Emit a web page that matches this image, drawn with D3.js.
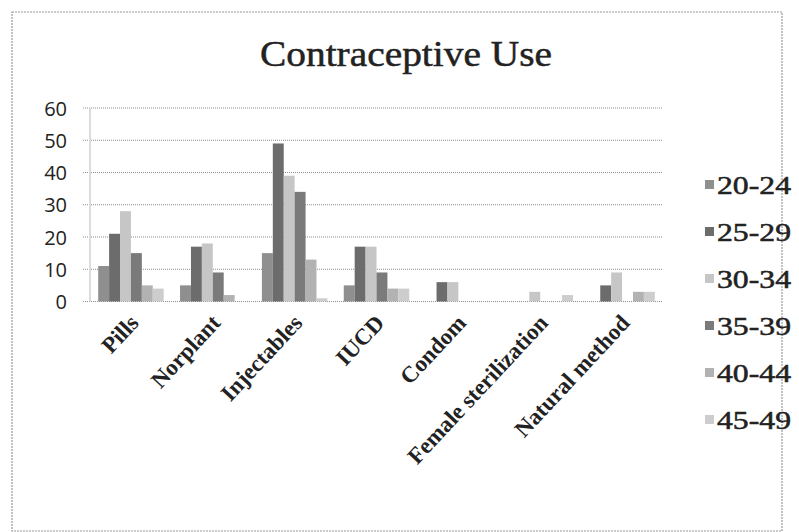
<!DOCTYPE html>
<html><head><meta charset="utf-8">
<script src="https://cdnjs.cloudflare.com/ajax/libs/d3/7.8.5/d3.min.js"></script>
<style>html,body{margin:0;padding:0;background:#fff;}</style>
</head><body>
<svg id="chart" width="799" height="532"></svg>
<script>
const categories = ["Pills","Norplant","Injectables","IUCD","Condom","Female sterilization","Natural method"];
const seriesNames = ["20-24","25-29","30-34","35-39","40-44","45-49"];
const s2024 = [11, 5, 15, 5, 0, 0, 0];
const s2529 = [21, 17, 49, 17, 6, 0, 5];
const s3034 = [28, 18, 39, 17, 6, 3, 9];
const s3539 = [15, 9, 34, 9, 0, 0, 0];
const s4044 = [5, 2, 13, 4, 0, 0, 3];
const s4549 = [4, 0, 1, 4, 0, 2, 3];
const yTicks = [0,10,20,30,40,50,60];
const colors = ["#8f8f8f","#6c6c6c","#c6c6c6","#7a7a7a","#b2b2b2","#cdcdcd"];

const seriesValues = [s2024,s2529,s3034,s3539,s4044,s4549];
const svg = d3.select("#chart");

// outer frame
svg.append("rect").attr("x",12).attr("y",12).attr("width",770).attr("height",519)
  .attr("fill","none").attr("stroke","#9a9a9a").attr("stroke-width",1.2).attr("stroke-dasharray","2,1");

const x0 = d3.scaleBand().domain(categories).range([90,663]);
const x1 = d3.scaleBand().domain(seriesNames).range([x0.bandwidth()*0.1, x0.bandwidth()*0.9]);
const y = d3.scaleLinear().domain([0,60]).range([301.5,108]);

// gridlines
svg.append("g").selectAll("line").data(yTicks).join("line")
  .attr("x1",83).attr("x2",663).attr("y1",d=>y(d)).attr("y2",d=>y(d))
  .attr("stroke","#8c8c8c").attr("stroke-width",1).attr("stroke-dasharray","1,1");

// y axis line
svg.append("line").attr("x1",90).attr("x2",90).attr("y1",y(60)).attr("y2",y(0))
  .attr("stroke","#dcdcdc").attr("stroke-width",2);

// y tick labels
const yAxis = d3.axisLeft(y).tickValues(yTicks).tickSize(0).tickPadding(0);
const ya = svg.append("g").attr("transform","translate(67,0)").call(yAxis);
ya.select(".domain").remove();
ya.selectAll("text").attr("font-family","'Open Sans', sans-serif").attr("font-size",20)
  .attr("fill","#222").attr("dy","0.35em");

// bars
const groups = svg.append("g").selectAll("g").data(categories).join("g")
  .attr("transform",c=>`translate(${x0(c)},0)`);
groups.selectAll("rect").data((c,ci)=>seriesNames.map((s,si)=>({s,si,v:seriesValues[si][ci]})))
  .join("rect")
  .attr("x",d=>x1(d.s)).attr("width",x1.bandwidth())
  .attr("y",d=>y(d.v)).attr("height",d=>y(0)-y(d.v))
  .attr("fill",d=>colors[d.si]);

// x labels
svg.append("g").selectAll("text").data(categories).join("text")
  .attr("transform",c=>`translate(${x0(c)+x0.bandwidth()/2+9},${324}) rotate(-47)`)
  .attr("text-anchor","end")
  .attr("font-family","'Liberation Serif', 'Times New Roman', serif")
  .attr("font-weight","bold").attr("font-size",23).attr("fill","#222")
  .text(c=>c);

// title
svg.append("text").attr("x",406).attr("y",66).attr("text-anchor","middle")
  .attr("font-family","'Liberation Serif', 'Times New Roman', serif")
  .attr("font-size",36).attr("fill","#222").attr("stroke","#222").attr("stroke-width",0.5)
  .attr("textLength",292).attr("lengthAdjust","spacingAndGlyphs")
  .text("Contraceptive Use");

// legend
const lg = svg.append("g").selectAll("g").data(seriesNames).join("g")
  .attr("transform",(d,i)=>`translate(705,${185+i*47})`);
lg.append("rect").attr("x",0).attr("y",-5).attr("width",9).attr("height",9)
  .attr("fill",(d,i)=>colors[i]);
lg.append("text").attr("x",12).attr("y",0).attr("dy","0.35em")
  .attr("font-family","'Liberation Serif', 'Times New Roman', serif")
  .attr("font-size",25).attr("fill","#222").attr("stroke","#222").attr("stroke-width",0.5)
  .attr("textLength",74).attr("lengthAdjust","spacingAndGlyphs")
  .text(d=>d);
</script>
</body></html>
